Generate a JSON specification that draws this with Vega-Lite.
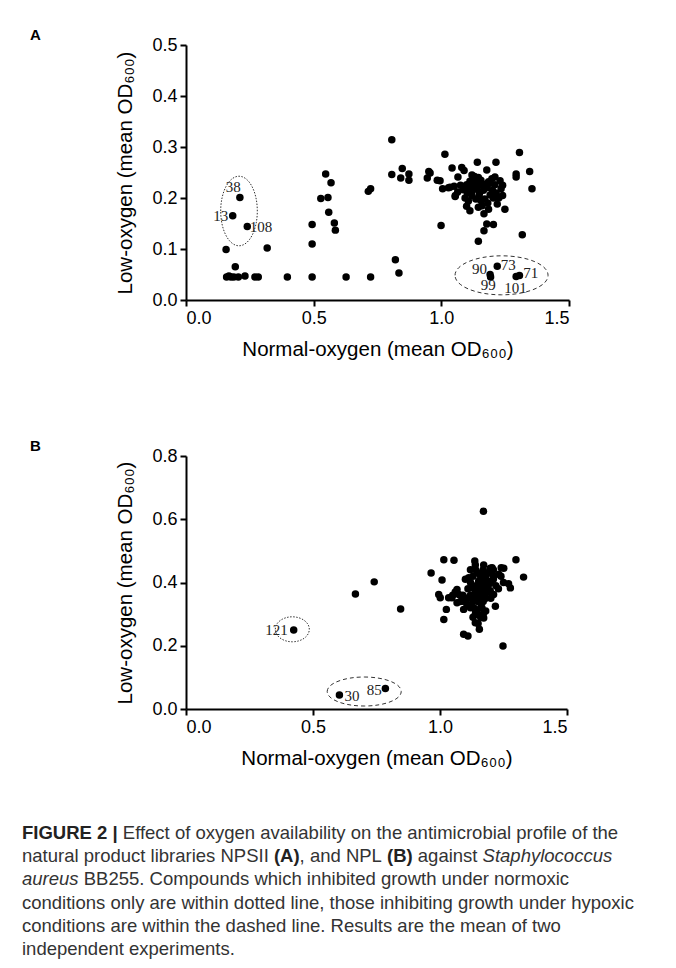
{
  "$schema": "https://vega.github.io/schema/vega-lite/v6.json",
  "background": "white",
  "padding": {"left": 22, "top": 28, "right": 10, "bottom": 10},
  "config": {
    "view": {"stroke": null},
    "font": "Liberation Sans",
    "axis": {"domainColor": "#000", "domainWidth": 2, "tickColor": "#000", "tickWidth": 2, "tickSize": 6, "labelFont": "Liberation Sans", "labelFontSize": 18, "labelColor": "#000", "titleFont": "Liberation Sans", "titleFontSize": 20.5, "titleFontWeight": "normal", "titleColor": "#000", "grid": false, "labelPadding": 3},
    "axisY": {"titlePadding": 16},
    "axisX": {"titlePadding": 12},
    "title": {"anchor": "start", "dx": -86, "fontSize": 15, "fontWeight": "bold", "offset": -7, "color": "#000", "font": "Liberation Sans"}
  },
  "datasets": {
    "A_points": [
      {"x":0.211,"y":0.201},{"x":0.183,"y":0.165},{"x":0.240,"y":0.144},{"x":0.157,"y":0.099},{"x":0.318,"y":0.102},{"x":0.193,"y":0.065},
      {"x":0.159,"y":0.045},{"x":0.168,"y":0.047},{"x":0.176,"y":0.045},{"x":0.187,"y":0.045},{"x":0.205,"y":0.045},{"x":0.231,"y":0.047},{"x":0.270,"y":0.045},{"x":0.283,"y":0.045},{"x":0.397,"y":0.045},{"x":0.494,"y":0.045},
      {"x":0.494,"y":0.148},{"x":0.494,"y":0.110},
      {"x":0.547,"y":0.247},{"x":0.568,"y":0.230},{"x":0.528,"y":0.199},{"x":0.556,"y":0.201},{"x":0.559,"y":0.172},{"x":0.581,"y":0.151},{"x":0.585,"y":0.137},
      {"x":0.627,"y":0.045},{"x":0.723,"y":0.045},{"x":0.714,"y":0.213},{"x":0.723,"y":0.218},
      {"x":0.806,"y":0.314},{"x":0.806,"y":0.246},{"x":0.847,"y":0.258},{"x":0.841,"y":0.239},{"x":0.873,"y":0.247},{"x":0.873,"y":0.235},
      {"x":0.820,"y":0.079},{"x":0.834,"y":0.053},{"x":0.999,"y":0.146},
      {"x":0.951,"y":0.252},{"x":0.956,"y":0.249},{"x":0.945,"y":0.239},{"x":0.984,"y":0.235},
      {"x":1.014,"y":0.286},{"x":1.042,"y":0.259},{"x":1.005,"y":0.218},{"x":1.028,"y":0.220},{"x":1.050,"y":0.223},{"x":1.055,"y":0.205},{"x":1.065,"y":0.241},
      {"x":1.080,"y":0.260},{"x":1.089,"y":0.254},{"x":1.141,"y":0.270},{"x":1.214,"y":0.270},{"x":1.178,"y":0.255},{"x":1.125,"y":0.239},{"x":1.112,"y":0.233},{"x":1.139,"y":0.233},{"x":1.099,"y":0.226},{"x":1.152,"y":0.226},{"x":1.210,"y":0.241},{"x":1.230,"y":0.234},{"x":1.191,"y":0.229},{"x":1.210,"y":0.226},{"x":1.234,"y":0.218},{"x":0.995,"y":0.234},{"x":1.034,"y":0.221},{"x":1.054,"y":0.203},{"x":1.086,"y":0.216},{"x":1.093,"y":0.200},{"x":1.125,"y":0.216},{"x":1.149,"y":0.208},{"x":1.178,"y":0.220},{"x":1.191,"y":0.206},{"x":1.204,"y":0.200},{"x":1.106,"y":0.194},{"x":1.099,"y":0.184},{"x":1.112,"y":0.175},{"x":1.145,"y":0.182},{"x":1.167,"y":0.169},{"x":1.219,"y":0.188},{"x":1.249,"y":0.178},{"x":1.293,"y":0.247},{"x":1.293,"y":0.241},{"x":1.306,"y":0.289},{"x":1.346,"y":0.252},{"x":1.355,"y":0.218},{"x":1.178,"y":0.149},{"x":1.204,"y":0.148},{"x":1.167,"y":0.136},{"x":1.145,"y":0.115},{"x":1.317,"y":0.128},
      {"x":1.120,"y":0.245},{"x":1.130,"y":0.242},{"x":1.135,"y":0.235},{"x":1.145,"y":0.240},{"x":1.155,"y":0.235},{"x":1.160,"y":0.228},{"x":1.118,"y":0.228},{"x":1.108,"y":0.222},{"x":1.128,"y":0.222},{"x":1.140,"y":0.218},{"x":1.165,"y":0.215},{"x":1.170,"y":0.225},{"x":1.185,"y":0.232},{"x":1.198,"y":0.238},{"x":1.200,"y":0.215},{"x":1.215,"y":0.210},{"x":1.120,"y":0.205},{"x":1.135,"y":0.198},{"x":1.155,"y":0.195},{"x":1.170,"y":0.198},{"x":1.182,"y":0.190},{"x":1.102,"y":0.210},{"x":1.075,"y":0.225},{"x":1.064,"y":0.212},{"x":1.240,"y":0.225},{"x":1.185,"y":0.178},{"x":1.160,"y":0.185},{"x":1.225,"y":0.200},{"x":1.240,"y":0.205},
      {"x":1.219,"y":0.066},{"x":1.191,"y":0.050},{"x":1.193,"y":0.045},{"x":1.306,"y":0.048},{"x":1.293,"y":0.046}
    ],
    "A_labels": [
      {"x":0.185,"y":0.222,"text":"38"},{"x":0.136,"y":0.165,"text":"13"},{"x":0.294,"y":0.144,"text":"108"},
      {"x":1.149,"y":0.061,"text":"90"},{"x":1.262,"y":0.069,"text":"73"},{"x":1.350,"y":0.052,"text":"71"},{"x":1.184,"y":0.029,"text":"99"},{"x":1.290,"y":0.024,"text":"101"}
    ],
    "B_points": [
      {"x":0.424,"y":0.250},{"x":0.604,"y":0.044},{"x":0.785,"y":0.065},
      {"x":0.667,"y":0.364},{"x":0.741,"y":0.402},{"x":0.845,"y":0.316},{"x":1.171,"y":0.625},
      {"x":0.965,"y":0.430},{"x":1.015,"y":0.472},{"x":1.055,"y":0.470},{"x":1.008,"y":0.408},{"x":0.995,"y":0.362},{"x":1.001,"y":0.352},{"x":1.025,"y":0.315},{"x":1.015,"y":0.283},{"x":1.093,"y":0.236},{"x":1.110,"y":0.231},{"x":1.155,"y":0.252},{"x":1.139,"y":0.273},{"x":1.248,"y":0.199},{"x":1.299,"y":0.472},{"x":1.329,"y":0.417},{"x":1.137,"y":0.468},{"x":1.139,"y":0.455},{"x":1.172,"y":0.455},{"x":1.198,"y":0.445},{"x":1.251,"y":0.445},{"x":1.231,"y":0.426},{"x":1.113,"y":0.415},{"x":1.270,"y":0.396},{"x":1.277,"y":0.383},{"x":1.067,"y":0.378},{"x":1.047,"y":0.352},{"x":1.087,"y":0.341},{"x":1.093,"y":0.315},{"x":1.218,"y":0.325},{"x":1.211,"y":0.362},{"x":1.165,"y":0.420},{"x":1.192,"y":0.404},{"x":1.165,"y":0.383},{"x":1.139,"y":0.367},{"x":1.113,"y":0.352},{"x":1.152,"y":0.341},{"x":1.178,"y":0.352},{"x":1.133,"y":0.320},{"x":1.165,"y":0.320},{"x":1.139,"y":0.299},{"x":1.172,"y":0.288},{"x":1.126,"y":0.383},{"x":1.152,"y":0.404},{"x":1.192,"y":0.431},{"x":1.211,"y":0.420},{"x":1.178,"y":0.367},{"x":1.198,"y":0.373},{"x":1.074,"y":0.362},{"x":1.106,"y":0.331},
      {"x":1.205,"y":0.447},{"x":1.241,"y":0.447},{"x":1.034,"y":0.352},{"x":1.067,"y":0.336},
      {"x":1.12,"y":0.40},{"x":1.13,"y":0.39},{"x":1.14,"y":0.38},{"x":1.15,"y":0.39},{"x":1.16,"y":0.40},{"x":1.17,"y":0.41},{"x":1.18,"y":0.40},{"x":1.19,"y":0.39},{"x":1.20,"y":0.40},{"x":1.15,"y":0.37},{"x":1.16,"y":0.36},{"x":1.17,"y":0.37},{"x":1.18,"y":0.38},{"x":1.19,"y":0.37},{"x":1.14,"y":0.35},{"x":1.15,"y":0.34},{"x":1.16,"y":0.35},{"x":1.17,"y":0.34},{"x":1.18,"y":0.35},{"x":1.12,"y":0.36},{"x":1.13,"y":0.34},{"x":1.11,"y":0.33},{"x":1.12,"y":0.32},{"x":1.14,"y":0.31},{"x":1.16,"y":0.32},{"x":1.15,"y":0.30},{"x":1.17,"y":0.30},{"x":1.13,"y":0.42},{"x":1.15,"y":0.43},{"x":1.17,"y":0.44},{"x":1.19,"y":0.43},{"x":1.21,"y":0.41},{"x":1.22,"y":0.39},{"x":1.20,"y":0.35},{"x":1.10,"y":0.35},{"x":1.09,"y":0.36},{"x":1.08,"y":0.34},{"x":1.16,"y":0.42},{"x":1.18,"y":0.42},{"x":1.14,"y":0.44},{"x":1.16,"y":0.29},{"x":1.15,"y":0.27},{"x":1.13,"y":0.29},{"x":1.18,"y":0.31},{"x":1.24,"y":0.42},{"x":1.25,"y":0.40},{"x":1.23,"y":0.38},{"x":1.06,"y":0.37},{"x":1.05,"y":0.36},{"x":1.12,"y":0.44},{"x":1.10,"y":0.41},{"x":1.11,"y":0.38},{"x":1.21,"y":0.44}
    ],
    "B_labels": [
      {"x":0.356,"y":0.250,"text":"121"},{"x":0.654,"y":0.040,"text":"30"},{"x":0.741,"y":0.061,"text":"85"}
    ]
  },
  "vconcat": [
    {
      "spacing": 79,
      "vconcat": [
        {
          "width": 383, "height": 255,
          "title": {"text": "A"},
          "encoding": {
            "x": {"field": "x", "type": "quantitative", "scale": {"domain": [0, 1.5], "nice": false}, "axis": {"values": [0, 0.5, 1, 1.5], "format": ".1f", "title": "Normal-oxygen (mean OD₆₀₀)"}},
            "y": {"field": "y", "type": "quantitative", "scale": {"domain": [0, 0.5], "nice": false}, "axis": {"values": [0, 0.1, 0.2, 0.3, 0.4, 0.5], "format": ".1f", "title": "Low-oxygen (mean OD₆₀₀)"}}
          },
          "layer": [
            {"data": {"name": "A_points"}, "mark": {"type": "point", "filled": true, "shape": "circle", "size": 56, "color": "#000", "opacity": 1}},
            {"data": {"name": "A_labels"}, "mark": {"type": "text", "font": "Liberation Serif", "fontSize": 15, "color": "#222", "align": "center", "baseline": "middle"}, "encoding": {"text": {"field": "text"}}},
            {"data": {"values": [{"x": 0.2076, "y": 0.1745}]}, "mark": {"type": "point", "filled": false, "stroke": "#333", "strokeWidth": 1, "strokeDash": [1.5, 1.5], "opacity": 1, "size": 1340, "shape": "M-1,0C-1,-1.05 -0.552,-1.9 0,-1.9C0.552,-1.9 1,-1.05 1,0C1,1.05 0.552,1.9 0,1.9C-0.552,1.9 -1,1.05 -1,0Z"}},
            {"data": {"values": [{"x": 1.2358, "y": 0.0484}]}, "mark": {"type": "point", "filled": false, "stroke": "#333", "strokeWidth": 1, "strokeDash": [4, 3], "opacity": 1, "size": 8649, "shape": "M-1,0C-1,-0.2316 -0.552,-0.4194 0,-0.4194C0.552,-0.4194 1,-0.2316 1,0C1,0.2316 0.552,0.4194 0,0.4194C-0.552,0.4194 -1,0.2316 -1,0Z"}}
          ]
        },
        {
          "width": 381, "height": 253,
          "title": {"text": "B"},
          "encoding": {
            "x": {"field": "x", "type": "quantitative", "scale": {"domain": [0, 1.5], "nice": false}, "axis": {"values": [0, 0.5, 1, 1.5], "format": ".1f", "title": "Normal-oxygen (mean OD₆₀₀)"}},
            "y": {"field": "y", "type": "quantitative", "scale": {"domain": [0, 0.8], "nice": false}, "axis": {"values": [0, 0.2, 0.4, 0.6, 0.8], "format": ".1f", "title": "Low-oxygen (mean OD₆₀₀)"}}
          },
          "layer": [
            {"data": {"name": "B_points"}, "mark": {"type": "point", "filled": true, "shape": "circle", "size": 56, "color": "#000", "opacity": 1}},
            {"data": {"name": "B_labels"}, "mark": {"type": "text", "font": "Liberation Serif", "fontSize": 15, "color": "#222", "align": "center", "baseline": "middle"}, "encoding": {"text": {"field": "text"}}},
            {"data": {"values": [{"x": 0.4185, "y": 0.252}]}, "mark": {"type": "point", "filled": false, "stroke": "#333", "strokeWidth": 1, "strokeDash": [1.5, 1.5], "opacity": 1, "size": 1156, "shape": "M-1,0C-1,-0.406 -0.552,-0.735 0,-0.735C0.552,-0.735 1,-0.406 1,0C1,0.406 0.552,0.735 0,0.735C-0.552,0.735 -1,0.406 -1,0Z"}},
            {"data": {"values": [{"x": 0.7016, "y": 0.0553}]}, "mark": {"type": "point", "filled": false, "stroke": "#333", "strokeWidth": 1, "strokeDash": [4, 3], "opacity": 1, "size": 5476, "shape": "M-1,0C-1,-0.2165 -0.552,-0.392 0,-0.392C0.552,-0.392 1,-0.2165 1,0C1,0.2165 0.552,0.392 0,0.392C-0.552,0.392 -1,0.2165 -1,0Z"}}
          ]
        }
      ]
    },
    {
      "width": 383, "height": 116,
      "encoding": {
        "y": {"field": "line", "type": "quantitative", "scale": {"domain": [0, 5], "reverse": true, "nice": false}, "axis": null},
        "x": {"value": 0},
        "text": {"field": "text"}
      },
      "layer": [
        {"data": {"values": [
          {"line": 1, "text": "natural product libraries NPSII"},
          {"line": 3, "text": "conditions only are within dotted line, those inhibiting growth under hypoxic"},
          {"line": 4, "text": "conditions are within the dashed line. Results are the mean of two"},
          {"line": 5, "text": "independent experiments."}
        ]}, "mark": {"type": "text", "align": "left", "baseline": "middle", "fontSize": 18.5, "color": "#333", "dx": -164}},
        {"data": {"values": [{"line": 0, "text": "FIGURE 2 |"}]}, "mark": {"type": "text", "align": "left", "baseline": "middle", "fontSize": 18.5, "fontWeight": "bold", "color": "#222", "dx": -164}},
        {"data": {"values": [{"line": 0, "text": "Effect of oxygen availability on the antimicrobial profile of the"}]}, "mark": {"type": "text", "align": "left", "baseline": "middle", "fontSize": 18.5, "color": "#333", "dx": -63.2}},
        {"data": {"values": [{"line": 1, "text": "(A)"}]}, "mark": {"type": "text", "align": "left", "baseline": "middle", "fontSize": 18.5, "fontWeight": "bold", "color": "#222", "dx": 87.9}},
        {"data": {"values": [{"line": 1, "text": ", and NPL"}]}, "mark": {"type": "text", "align": "left", "baseline": "middle", "fontSize": 18.5, "color": "#333", "dx": 113.6}},
        {"data": {"values": [{"line": 1, "text": "(B)"}]}, "mark": {"type": "text", "align": "left", "baseline": "middle", "fontSize": 18.5, "fontWeight": "bold", "color": "#222", "dx": 201}},
        {"data": {"values": [{"line": 1, "text": "against"}]}, "mark": {"type": "text", "align": "left", "baseline": "middle", "fontSize": 18.5, "color": "#333", "dx": 231.8}},
        {"data": {"values": [{"line": 1, "text": "Staphylococcus"}]}, "mark": {"type": "text", "align": "left", "baseline": "middle", "fontSize": 18.5, "fontStyle": "italic", "color": "#333", "dx": 296.6}},
        {"data": {"values": [{"line": 2, "text": "aureus"}]}, "mark": {"type": "text", "align": "left", "baseline": "middle", "fontSize": 18.5, "fontStyle": "italic", "color": "#333", "dx": -164}},
        {"data": {"values": [{"line": 2, "text": "BB255. Compounds which inhibited growth under normoxic"}]}, "mark": {"type": "text", "align": "left", "baseline": "middle", "fontSize": 18.5, "color": "#333", "dx": -102.3}}
      ]
    }
  ],
  "spacing": 55
}
